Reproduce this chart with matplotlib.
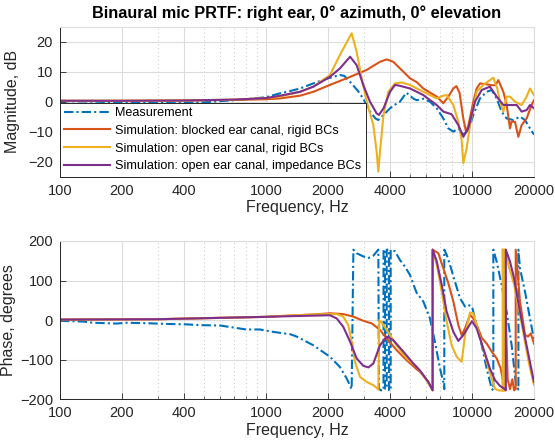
import matplotlib
matplotlib.use("Agg")
import matplotlib.pyplot as plt
from matplotlib.ticker import FixedLocator, NullFormatter

plt.rcParams['font.family'] = ['Liberation Sans', 'DejaVu Sans']

# ---------------- data ----------------
xticks = [100, 200, 400, 1000, 2000, 4000, 10000, 20000]
xticklabels = ['100', '200', '400', '1000', '2000', '4000', '10000', '20000']
xminor = [300, 500, 600, 700, 800, 900, 3000, 5000, 6000, 7000, 8000, 9000]
mag_yticks = [-20, -10, 0, 10, 20]
ph_yticks = [-200, -100, 0, 100, 200]

labels = ['Measurement',
          'Simulation: blocked ear canal, rigid BCs',
          'Simulation: open ear canal, rigid BCs',
          'Simulation: open ear canal, impedance BCs']

# magnitude (dB)
meas_mag_f = [100, 150, 200, 300, 400, 500, 600, 700, 800, 1000, 1170, 1300, 1463, 1697,
              2000, 2285, 2400, 2600, 2800, 2960, 3200, 3400, 3510, 3720, 4000, 4200,
              4470, 4800, 5000, 5200, 5400, 5800, 6250, 6740, 7260, 7680, 8120, 8580,
              9075, 9600, 10150, 10935, 11785, 12460, 13174, 13930, 14730, 15870, 17100,
              18085, 19125, 20000]
meas_mag = [0.2, 0.0, -0.3, -0.2, -0.3, -0.2, 0.2, 0.5, 0.8, 1.5, 2.8, 3.5, 4.4, 6.1,
            7.8, 8.9, 8.6, 6.1, 3.5, 1.1, -3.3, -5.6, -6.1, -4.4, -2.2, -1.1,
            0.0, 3.0, 2.0, 1.0, 0.5, 1.0, 0.0, -2.2, -5.6, -8.9, -10.0, -8.9,
            -11.0, -9.4, -4.4, 1.1, 3.3, 3.9, 1.1, -3.3, -5.6, -6.1, -5.0,
            -6.1, -8.9, -11.0]

blk_mag_f = [100, 200, 400, 700, 1000, 1170, 1463, 1697, 2045, 2464, 3083, 3576, 3855,
             4148, 4640, 5000, 5400, 5803, 6741, 7258, 7677, 8119, 8400, 8700, 9075,
             9350, 9600, 10148, 10534, 10935, 11785, 12460, 13000, 13427, 14195, 14732,
             15291, 15550, 16170, 16790, 17420, 18410, 19500, 20000]
blk_mag = [0.3, 0.3, 0.4, 0.6, 0.8, 1.1, 2.0, 3.3, 5.6, 7.8, 10.6, 13.3, 14.1,
           13.3, 10.0, 7.8, 6.5, 4.4, 1.7, -0.5, 1.7, 4.4, 5.2, 3.0, -5.6,
           -10.0, -8.0, 0.0, 4.4, 6.1, 5.8, 5.5, 5.5, 7.2, 3.3, -1.0,
           -8.9, -6.7, -6.7, -11.7, -7.8, -5.6, -1.0, 0.5]

opr_mag_f = [100, 200, 400, 700, 1000, 1170, 1463, 1697, 2045, 2285, 2605, 2754, 2914,
             3083, 3320, 3445, 3510, 3576, 3720, 3926, 4230, 4557, 5000, 5396, 5803,
             6741, 7258, 7536, 8119, 8584, 8911, 9075, 9420, 9780, 10534, 11346, 12222,
             12694, 13270, 13680, 14195, 14732, 15291, 16170, 17420, 18410, 19125, 20000]
opr_mag = [0.3, 0.3, 0.4, 0.7, 1.2, 1.7, 3.3, 5.0, 8.9, 15.6, 22.8, 16.7, 7.8,
           0.0, -7.8, -16.7, -23.3, -16.7, -4.4, 3.3, 6.1, 6.4, 5.6, 4.4, 3.3,
           1.1, 2.0, 2.2, -1.1, -6.7, -13.0, -20.5, -15.6, -7.8, 3.3, 5.6, 7.2,
           8.0, 4.4, 0.0, -3.3, 1.7, 1.7, 0.0, -1.1, 1.7, 4.4, 2.2]

oim_mag_f = [100, 200, 400, 700, 1000, 1170, 1463, 1697, 2045, 2285, 2560, 2754, 2966,
             3196, 3445, 3535, 3720, 4000, 4230, 4467, 5000, 5396, 5803, 6741, 7258,
             7966, 8584, 9075, 9596, 10342, 11150, 12222, 13174, 14195, 15291, 16482,
             17420, 18410, 19125, 20000]
oim_mag = [0.3, 0.3, 0.4, 0.7, 1.2, 2.0, 3.3, 5.0, 8.3, 11.1, 15.0, 12.2, 5.6,
           0.0, -3.9, -4.4, -2.2, 3.3, 5.6, 5.3, 4.4, 3.3, 2.2, -1.1, -3.3,
           -4.2, -7.8, -11.7, -8.9, 0.0, 3.9, 5.0, 1.7, -1.1, -1.1, -1.1,
           -3.3, -2.8, -1.1, -2.2]

# phase (degrees)
meas_ph_f = [100, 130, 145, 188, 210, 260, 330, 410, 480, 600, 694, 800, 935, 1080, 1310,
             1410, 1697, 2045, 2285, 2464, 2605, 2656, 2754, 2966, 3142, 3320, 3510,
             3535, 3614, 3720, 3720, 3782, 3782, 3855, 3855, 3953, 3953, 4030, 4030,
             4230, 4467, 4730, 5000, 5283, 5396, 5803, 6252, 6606, 6995, 7258, 7337,
             7337, 7536, 7817, 8268, 8750, 9255, 9596, 10000, 10534, 11150, 11785,
             12461, 12694, 12694, 13174, 13930, 14732, 15580, 16355, 16800, 16800,
             17100, 18085, 19125, 20000]
meas_ph = [-2, -4, -7, -9, -7, -8, -10, -11, -13, -14, -19, -24, -24, -30, -36,
           -42, -64, -93, -119, -148, -175, 178, 169, 161, 157, 163, 178,
           -174, -178, -178, 178, 178, -174, -174, 178, 178, -178, -178, 178,
           174, 152, 135, 114, 80, 68, 47, 4, -55, -123, -157, -175,
           178, 165, 140, 97, 55, 34, 38, 34, -13, -64, -123,
           -174, -178, 178, 148, 89, 21, -64, -165, -176, 178,
           131, 72, 4, -50]

blk_ph_f = [100, 300, 1000, 1170, 1697, 2045, 2371, 2656, 2966, 3259, 3576, 3855, 4302,
            4818, 5396, 5593, 6140, 6440, 6440, 6865, 7258, 7677, 8119, 8584, 8911,
            9255, 9780, 10148, 10500, 11150, 11800, 12460, 13174, 13780, 14100, 14150,
            14150, 14500, 14900, 15300, 15700, 16000, 16300, 16300, 17100, 18100, 18700,
            19300, 20000]
blk_ph = [1, 2, 8, 10, 14, 17, 15, 8.5, -2, -8.5, -25, -47, -76,
          -102, -125, -131, -157, -178, 178, 169, 131, 93, 47, -13, -38,
          -21, 13, 4, -10, -45, -60, -80, -97, -123, -150, -178,
          178, 60, -150, -175, -150, -178, -175, 178, 47, -38, -42,
          -34, -60]

opr_ph_f = [100, 300, 1000, 1170, 1697, 2045, 2204, 2371, 2510, 2605, 2705, 2860, 3083,
            3320, 3483, 3510, 3548, 3720, 4000, 4302, 4818, 5396, 5800, 6140, 6440, 6440,
            6741, 7130, 7536, 7966, 8430, 8911, 9255, 9780, 10148, 10760, 11560, 12460,
            12933, 13427, 14100, 14100, 14300, 14450, 14450, 15000, 16000, 17000, 18000,
            19000, 20000]
opr_ph = [1, 2, 8, 10, 14, 15, 15, 8.5, -13, -55, -106, -144, -157,
          -165, -174, -176, 0, -13, -38, -64, -97, -119, -140, -160, -178, 178,
          140, 72, -4, -64, -93, -106, -38, 19, 17, -30, -89, -148,
          -174, -178, -179, 179, -179, -179, 179, 140, 90, 20, -50,
          -115, -165]

oim_ph_f = [100, 300, 1000, 1170, 1697, 2045, 2204, 2371, 2560, 2754, 2966, 3142, 3320,
            3576, 3855, 4148, 4640, 5188, 5593, 6140, 6440, 6440, 6741, 7130, 7536, 8119,
            8584, 9075, 10000, 10534, 11346, 12222, 12933, 13680, 14454, 14600, 14600,
            15291, 16000, 17100, 18400, 20000]
oim_ph = [1, 2, 8, 9, 11, 12, 4, -17, -55, -97, -116, -120, -110,
          -64, -42, -51, -80, -110, -128, -157, -178, 178, 149, 89, 21, -30,
          -53, -38, -3, -21, -72, -123, -152, -167, -175, -178, 178,
          148, 106, 21, -64, -157]

# ---------------- styling ----------------
colors = ['#0072BD', '#D95319', '#EDB120', '#7E2F8E']
axcol = '#262626'
gridcol = '#dcdcdc'

fig = plt.figure(figsize=(5.55, 4.48), dpi=100)
ax1 = fig.add_axes([60/555, 1-176.7/448, 474/555, 150/448])
ax2 = fig.add_axes([60/555, 1-399/448, 474/555, 158/448])

lw = 1.5
dash = (0, (4.5, 1.5, 1, 1.5))

def style(ax, yticks, ylim):
    ax.set_xscale('log')
    ax.set_xlim(100, 20000)
    ax.set_ylim(*ylim)
    ax.xaxis.set_major_locator(FixedLocator(xticks))
    ax.set_xticklabels(xticklabels)
    ax.xaxis.set_minor_locator(FixedLocator(xminor))
    ax.xaxis.set_minor_formatter(NullFormatter())
    ax.set_yticks(yticks)
    ax.grid(True, which='major', color=gridcol, lw=0.8)
    ax.grid(True, which='minor', axis='x', color='#c4c4c4', lw=0.7, ls=(0, (1, 3)))
    ax.set_axisbelow(True)
    ax.tick_params(which='both', direction='in', colors=axcol, labelsize=10.5,
                   top=False, right=False)
    ax.tick_params(which='major', length=4, width=0.6, pad=5)
    ax.tick_params(which='minor', length=2.5, width=0.5)
    for s in ['left', 'bottom']:
        ax.spines[s].set_color(axcol)
        ax.spines[s].set_linewidth(0.7)
    for s in ['top', 'right']:
        ax.spines[s].set_color(gridcol)
        ax.spines[s].set_linewidth(0.8)
    ax.set_xlabel('Frequency, Hz', fontsize=11.5, color=axcol, labelpad=2)

style(ax1, mag_yticks, (-25, 25))
style(ax2, ph_yticks, (-200, 200))

ax1.plot(meas_mag_f, meas_mag, color=colors[0], lw=lw, ls=dash, label=labels[0])
ax1.plot(blk_mag_f, blk_mag, color=colors[1], lw=lw, label=labels[1])
ax1.plot(opr_mag_f, opr_mag, color=colors[2], lw=lw, label=labels[2])
ax1.plot(oim_mag_f, oim_mag, color=colors[3], lw=lw, label=labels[3])

ax2.plot(meas_ph_f, meas_ph, color=colors[0], lw=lw, ls=dash)
ax2.plot(blk_ph_f, blk_ph, color=colors[1], lw=lw)
ax2.plot(opr_ph_f, opr_ph, color=colors[2], lw=lw)
ax2.plot(oim_ph_f, oim_ph, color=colors[3], lw=lw)

ax1.set_ylabel('Magnitude, dB', fontsize=11.5, color=axcol, labelpad=6)
ax2.set_ylabel('Phase, degrees', fontsize=11.5, color=axcol, labelpad=3)
ax1.set_title('Binaural mic PRTF: right ear, 0° azimuth, 0° elevation',
              fontsize=11.7, fontweight='bold', color='black', pad=6)

leg = ax1.legend(loc='lower left', bbox_to_anchor=(0, 0), borderaxespad=0,
                 fontsize=9.1, handlelength=3.6, handletextpad=0.4,
                 labelspacing=0.45, borderpad=0.35, fancybox=False,
                 framealpha=1, edgecolor=axcol)
leg.get_frame().set_linewidth(0.7)
for t in leg.get_texts():
    t.set_color('black')

fig.savefig('out.png', dpi=100)
